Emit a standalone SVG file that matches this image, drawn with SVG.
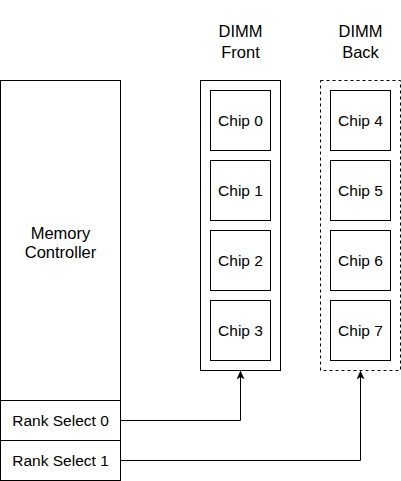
<svg xmlns="http://www.w3.org/2000/svg" width="401" height="481" viewBox="0 0 401 481">
<style>
.box{fill:#fff;stroke:#000;stroke-width:1}
.dash{fill:#fff;stroke:#000;stroke-width:1;stroke-dasharray:3 3}
text{font-family:"Liberation Sans",Arial,sans-serif;font-size:15.5px;fill:#000;text-anchor:middle}
.big{font-size:16.5px}
.conn{fill:none;stroke:#000;stroke-width:1}
</style>
<defs>
<marker id="arr" viewBox="0 0 8 8" refX="7.5" refY="4" markerWidth="8" markerHeight="8" markerUnits="userSpaceOnUse" orient="auto">
<path d="M0.5,0.8 L7.5,4 L0.5,7.2 L2.2,4 Z" fill="#000" stroke="#000" stroke-width="0.8"/>
</marker>
</defs>
<rect width="401" height="481" fill="#fff"/>
<g id="memory-controller">
<rect class="box" x="0.5" y="80.5" width="120" height="320"/>
<text class="big" x="60.5" y="238.5">Memory</text>
<text class="big" x="60.5" y="257.5">Controller</text>
</g>
<g id="rank-select-0">
<rect class="box" x="0.5" y="400.5" width="120" height="40"/>
<text x="60.5" y="426">Rank Select 0</text>
</g>
<g id="rank-select-1">
<rect class="box" x="0.5" y="440.5" width="120" height="40"/>
<text x="60.5" y="466">Rank Select 1</text>
</g>
<g id="label-front">
<text class="big" x="240.5" y="36.5">DIMM</text>
<text class="big" x="240.5" y="57.5">Front</text>
</g>
<g id="label-back">
<text class="big" x="360.5" y="36.5">DIMM</text>
<text class="big" x="360.5" y="57.5">Back</text>
</g>
<g id="dimm-front">
<rect class="box" x="200.5" y="80.5" width="80" height="290"/>
</g>
<g id="dimm-back">
<rect class="dash" x="320.5" y="80.5" width="80" height="290"/>
</g>
<g id="chip-0"><rect class="box" x="210.5" y="90.5" width="60" height="60"/><text x="240.5" y="126">Chip 0</text></g>
<g id="chip-1"><rect class="box" x="210.5" y="160.5" width="60" height="60"/><text x="240.5" y="196">Chip 1</text></g>
<g id="chip-2"><rect class="box" x="210.5" y="230.5" width="60" height="60"/><text x="240.5" y="266">Chip 2</text></g>
<g id="chip-3"><rect class="box" x="210.5" y="300.5" width="60" height="60"/><text x="240.5" y="336">Chip 3</text></g>
<g id="chip-4"><rect class="box" x="330.5" y="90.5" width="60" height="60"/><text x="360.5" y="126">Chip 4</text></g>
<g id="chip-5"><rect class="box" x="330.5" y="160.5" width="60" height="60"/><text x="360.5" y="196">Chip 5</text></g>
<g id="chip-6"><rect class="box" x="330.5" y="230.5" width="60" height="60"/><text x="360.5" y="266">Chip 6</text></g>
<g id="chip-7"><rect class="box" x="330.5" y="300.5" width="60" height="60"/><text x="360.5" y="336">Chip 7</text></g>
<g id="connectors">
<path class="conn" d="M120.5,420.5 H240.5 V371.5" marker-end="url(#arr)"/>
<path class="conn" d="M120.5,460.5 H360.5 V371.5" marker-end="url(#arr)"/>
</g>
</svg>
